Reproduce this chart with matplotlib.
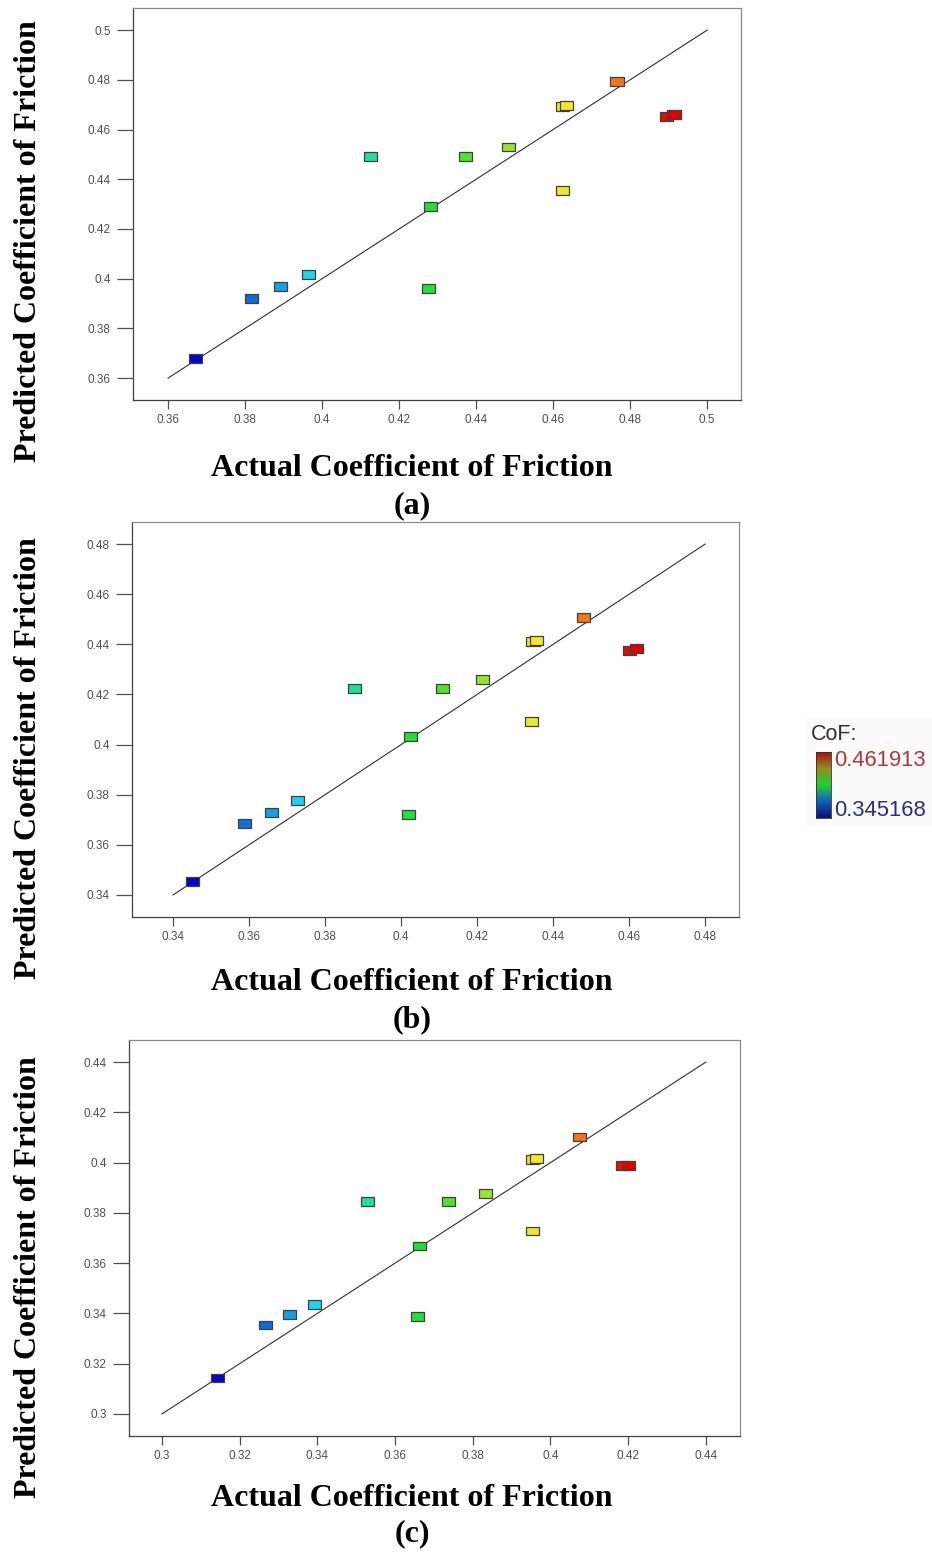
import numpy as np
import matplotlib
matplotlib.use("Agg")
import matplotlib.pyplot as plt
from matplotlib.colors import LinearSegmentedColormap, Normalize

# ---------------- data ----------------
actual_a = [0.3672, 0.3817, 0.3891, 0.3966, 0.4125, 0.4282, 0.4277, 0.4373,
            0.4484, 0.4624, 0.4634, 0.4624, 0.4766, 0.4895, 0.4914]
pred_a = [0.3678, 0.3920, 0.3969, 0.4017, 0.4492, 0.4289, 0.3959, 0.4492,
          0.4530, 0.4692, 0.4696, 0.4356, 0.4795, 0.4652, 0.4662]

actual_b = [0.3452, 0.3589, 0.3659, 0.3727, 0.3877, 0.4024, 0.4019, 0.4110,
            0.4214, 0.4347, 0.4357, 0.4344, 0.4479, 0.4601, 0.4619]
pred_b = [0.3455, 0.3684, 0.3730, 0.3777, 0.4225, 0.4032, 0.3721, 0.4224,
          0.4261, 0.4412, 0.4416, 0.4093, 0.4507, 0.4374, 0.4385]

actual_c = [0.3142, 0.3266, 0.3328, 0.3392, 0.3528, 0.3662, 0.3657, 0.3738,
            0.3834, 0.3955, 0.3964, 0.3953, 0.4074, 0.4185, 0.4202]
pred_c = [0.3143, 0.3354, 0.3395, 0.3436, 0.3846, 0.3668, 0.3386, 0.3846,
          0.3876, 0.4013, 0.4017, 0.3728, 0.4102, 0.3987, 0.3990]

ticks_a = [0.36, 0.38, 0.40, 0.42, 0.44, 0.46, 0.48, 0.50]
ticks_b = [0.34, 0.36, 0.38, 0.40, 0.42, 0.44, 0.46, 0.48]
ticks_c = [0.30, 0.32, 0.34, 0.36, 0.38, 0.40, 0.42, 0.44]
panel_labels = ["(a)", "(b)", "(c)"]
cof_min, cof_max = "0.345168", "0.461913"

# ---------------- style ----------------
cmap = LinearSegmentedColormap.from_list(
    "de", [(0.0, "#0008c0"), (0.25, "#20e0f0"), (0.5, "#20e030"),
           (0.78, "#f8e828"), (0.88, "#f07818"), (1.0, "#e00000")])
bar_cmap = LinearSegmentedColormap.from_list(
    "bar", ["#101070", "#1060c0", "#20d030", "#909020", "#b01010"])

rect = [(-1, -0.68), (1, -0.68), (1, 0.68), (-1, 0.68), (-1, -0.68)]

fig = plt.figure(figsize=(9.32, 15.52), dpi=100)
W, H = 932.0, 1552.0

frames = [(133, 741, 8, 400), (132, 739, 522, 917), (129, 740, 1040, 1436)]
label_offsets = [(69, 106), (66, 103), (62, 98)]
lims = [((0.3509, 0.5088), (0.3512, 0.5089)),
        ((0.3292, 0.4889), (0.3312, 0.4888)),
        ((0.2915, 0.4488), (0.2912, 0.4488))]
datasets = [(actual_a, pred_a, ticks_a), (actual_b, pred_b, ticks_b),
            (actual_c, pred_c, ticks_c)]

serif = ["Liberation Serif", "DejaVu Serif"]
sans = ["Liberation Sans", "DejaVu Sans"]

for i, ((l, r, t, b), (xl, yl), (xa, ya, tk)) in enumerate(zip(frames, lims, datasets)):
    ax = fig.add_axes([l / W, 1 - b / H, (r - l) / W, (b - t) / H])
    ax.set_xlim(*xl)
    ax.set_ylim(*yl)
    ax.plot([tk[0], tk[-1]], [tk[0], tk[-1]], color="#303030", lw=0.8, zorder=1)
    norm = Normalize(vmin=min(xa), vmax=max(xa))
    ax.scatter(xa, ya, c=xa, cmap=cmap, norm=norm, marker=rect, s=9.4 ** 2,
               edgecolors="#404040", linewidths=0.9, zorder=3)
    ax.set_xticks(tk)
    ax.set_yticks(tk)
    ax.set_xticklabels([f"{v:g}" for v in tk])
    ax.set_yticklabels([f"{v:g}" for v in tk])
    ax.tick_params(axis="x", direction="out", length=6.5, width=0.9,
                   colors="#505050", labelsize=8.5, pad=3.5)
    ax.tick_params(axis="y", direction="out", length=11.5, width=0.9,
                   colors="#505050", labelsize=8.5, pad=4.5)
    for lab in ax.get_xticklabels() + ax.get_yticklabels():
        lab.set_family(sans)
    for side in ["left", "bottom"]:
        ax.spines[side].set_color("#404040")
        ax.spines[side].set_linewidth(0.9)
    for side in ["top", "right"]:
        ax.spines[side].set_color("#8a8a8a")
        ax.spines[side].set_linewidth(0.9)

    # axis titles
    ox, op = label_offsets[i]
    fig.text(29 / W, 1 - (b - 159) / H, "Predicted Coefficient of Friction",
             rotation=90, ha="center", va="center", fontsize=23,
             fontweight="bold", family=serif)
    fig.text(412 / W, 1 - (b + ox) / H, "Actual Coefficient of Friction",
             ha="center", va="center", fontsize=23, fontweight="bold",
             family=serif)
    fig.text(412 / W, 1 - (b + op) / H, panel_labels[i],
             ha="center", va="center", fontsize=23, fontweight="bold",
             family=serif)

# colour legend
bg = fig.add_axes([806 / W, 1 - 826 / H, 126 / W, 108 / H])
bg.set_facecolor("#fbfbfb")
bg.set_xticks([])
bg.set_yticks([])
for s in bg.spines.values():
    s.set_visible(False)
cax = fig.add_axes([816 / W, 1 - 818 / H, 15 / W, 66 / H])
cax.imshow(np.linspace(1, 0, 100).reshape(-1, 1), aspect="auto", cmap=bar_cmap)
cax.set_xticks([])
cax.set_yticks([])
for s in cax.spines.values():
    s.set_color("#303030")
    s.set_linewidth(0.6)
fig.text(811 / W, 1 - 735 / H, "CoF:", ha="left", va="center", fontsize=15.5,
         color="#303030", family=sans)
fig.text(834 / W, 1 - 760 / H, cof_max, ha="left", va="center", fontsize=15.8,
         color="#b03838", family=sans)
fig.text(834 / W, 1 - 810 / H, cof_min, ha="left", va="center", fontsize=15.8,
         color="#283080", family=sans)

fig.savefig("out.png", dpi=100, facecolor="white")
